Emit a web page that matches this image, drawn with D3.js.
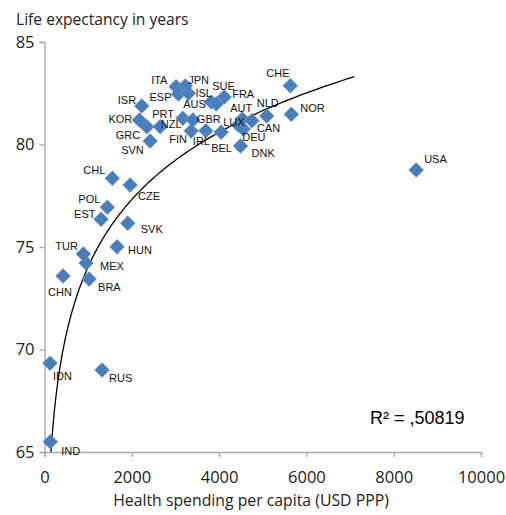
<!DOCTYPE html>
<html>
<head>
<meta charset="utf-8">
<script src="https://cdn.jsdelivr.net/npm/d3@7"></script>
<style>
  html, body { margin: 0; padding: 0; background: #fff; }
</style>
</head>
<body>
<svg id="chart" width="506" height="515"></svg>
<script>
// country codes, spending (USD PPP) and life expectancy
const countries = ['IND','IDN','RUS','CHN','BRA','MEX','TUR','HUN','SVK','EST','POL','CHL','CZE',
  'SVN','GRC','KOR','PRT','ISR','ITA','JPN','ESP','ISL','AUS','FRA','SUE','NZL','GBR','FIN','IRL',
  'BEL','LUX','DEU','DNK','AUT','CAN','NLD','NOR','CHE','USA']
const spending = [133,126,1319,424,1021,952,890,1663,1908,1296,1440,1553,1961,
  2420,2344,2174,2650,2229,3016,3222,3069,3298,3819,3933,4117,3170,3399,3360,3697,
  4048,4438,4553,4491,4530,4752,5092,5654,5631,8514]
const lifeExp = [65.50,69.33,69.00,73.59,73.44,74.22,74.66,75.01,76.16,76.35,76.94,78.35,78.02,
  80.17,80.87,81.20,80.87,81.88,82.82,82.85,82.46,82.50,82.07,81.98,82.32,81.28,81.20,80.66,80.67,
  80.60,80.95,80.76,79.93,81.24,81.16,81.39,81.47,82.87,78.76]
const xTicks = [0,2000,4000,6000,8000,10000]
const yTicks = [65,70,75,80,85]
// logarithmic trendline y = a*ln(x) + b
const trendA = 4.733
const trendB = 41.34
const trendRange = [100,7100]
const r2Text = 'R² = ,50819'

// label offsets from the marker centre (layout only)
const labelOffset = {
  IND:[11,13], IDN:[3,17], RUS:[7,12], CHN:[-15,20], BRA:[9,12], MEX:[14,7], TUR:[-28,-3.5],
  HUN:[11,7], SVK:[13,10], EST:[-27,-1], POL:[-29,-4], CHL:[-29,-4], CZE:[8,14.5],
  SVN:[-29,12.5], GRC:[-31,12], KOR:[-31,3.5], PRT:[-8,-9], ISR:[-24,-1.5], ITA:[-25,-3],
  JPN:[3,-2.5], ESP:[-29,7], ISL:[7,4], AUS:[-28,6], FRA:[16,-5.5], SUE:[-12,-7], NZL:[-22,10],
  GBR:[4,3.5], FIN:[-22,12.5], IRL:[-13,14], BEL:[-10,20], LUX:[-15,1], DEU:[-1,12], DNK:[11,11],
  AUT:[-12,-7], CAN:[5,11], NLD:[-10,-9], NOR:[9,-2], CHE:[-24,-9], USA:[8,-7]
}

const margin = {left:44.5, top:42, right:25, bottom:63}
const width = 506, height = 515
const axisColor = '#a6a6a6'
const markerColor = '#4a7ebb'
const uiFont = '"Open Sans", "Noto Sans", sans-serif'
const labelFont = '"Liberation Sans", Arial, sans-serif'

const svg = d3.select('#chart')
const x = d3.scaleLinear().domain([0,10000]).range([margin.left, width - margin.right])
const y = d3.scaleLinear().domain([65,85]).range([height - margin.bottom, margin.top])

function drawAxes(g){
  let xAxis = g.append('g')
    .attr('transform', `translate(0,${y(65)})`)
    .call(d3.axisBottom(x).tickValues(xTicks).tickSize(5).tickPadding(10).tickFormat(d3.format('d')))
  let yAxis = g.append('g')
    .attr('transform', `translate(${x(0)},0)`)
    .call(d3.axisLeft(y).tickValues(yTicks).tickSize(5).tickPadding(5))
  ;[xAxis, yAxis].forEach(a => {
    a.select('.domain').attr('stroke', axisColor).attr('stroke-width', 1.3)
    a.selectAll('.tick line').attr('stroke', axisColor).attr('stroke-width', 1.3)
    a.selectAll('.tick text')
      .attr('fill', '#222')
      .attr('font-family', uiFont)
      .attr('font-size', '16.5px')
  })
  xAxis.selectAll('.tick text').attr('dy', '0.95em')

  g.append('text')
    .attr('x', 16)
    .attr('y', 25)
    .attr('font-family', uiFont)
    .attr('font-size', '15.6px')
    .attr('fill', '#222')
    .text('Life expectancy in years')

  g.append('text')
    .attr('x', 251)
    .attr('y', 506)
    .attr('text-anchor', 'middle')
    .attr('font-family', uiFont)
    .attr('font-size', '15.8px')
    .attr('fill', '#222')
    .text('Health spending per capita (USD PPP)')
}

function drawTrend(g){
  let pts = []
  for(let i = 0; i <= 200; i++){
    let v = trendRange[0] * Math.pow(trendRange[1] / trendRange[0], i / 200)
    pts.push([v, trendA * Math.log(v) + trendB])
  }
  g.append('clipPath').attr('id', 'plotClip')
    .append('rect')
    .attr('x', x(0)).attr('y', y(85))
    .attr('width', x(10000) - x(0)).attr('height', y(65) - y(85))
  g.append('path')
    .datum(pts)
    .attr('clip-path', 'url(#plotClip)')
    .attr('fill', 'none')
    .attr('stroke', '#000')
    .attr('stroke-width', 1.3)
    .attr('d', d3.line().x(d => x(d[0])).y(d => y(d[1])))
}

function drawPoints(g){
  let s = 10.6
  for(let i = 0; i < countries.length; i++){
    g.append('rect')
      .attr('x', -s / 2).attr('y', -s / 2)
      .attr('width', s).attr('height', s)
      .attr('transform', `translate(${x(spending[i])},${y(lifeExp[i])}) rotate(45)`)
      .attr('fill', markerColor)
      .attr('stroke', '#7fa3d3')
      .attr('stroke-width', 0.4)
  }
  for(let i = 0; i < countries.length; i++){
    let off = labelOffset[countries[i]]
    g.append('text')
      .attr('x', x(spending[i]) + off[0])
      .attr('y', y(lifeExp[i]) + off[1])
      .attr('font-family', labelFont)
      .attr('font-size', '11px')
      .attr('fill', '#111')
      .text(countries[i])
  }
}

drawAxes(svg)
drawTrend(svg)
drawPoints(svg)

svg.append('text')
  .attr('x', 370)
  .attr('y', 424)
  .attr('font-family', labelFont)
  .attr('font-size', '18px')
  .attr('fill', '#000')
  .text(r2Text)
</script>
</body>
</html>
